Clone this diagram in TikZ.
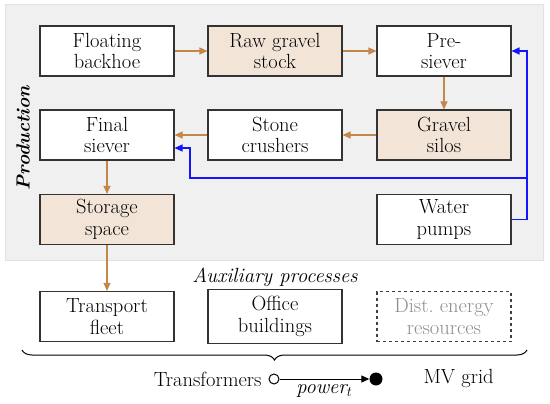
\documentclass[tikz,border=0pt]{standalone}
\usepackage{fontspec}
\setmainfont{Latin Modern Roman}
\usetikzlibrary{arrows.meta,decorations.pathreplacing,calc}
\definecolor{bgray}{HTML}{F0F0F0}
\definecolor{bgedge}{HTML}{E2E2E2}
\definecolor{tan}{HTML}{F2E5D8}
\definecolor{brownarr}{HTML}{C4874A}
\definecolor{ablue}{HTML}{1414FF}
\begin{document}
\begin{tikzpicture}[x=1pt,y=-1pt,
  box/.style={draw=black!80,line width=1.1pt,minimum width=134pt,minimum height=50pt,align=center,inner sep=2pt,font=\fontsize{20.5}{21.7}\selectfont},
  stock/.style={box,fill=tan},
  plain/.style={box,fill=white},
  flow/.style={draw=brownarr,line width=1.1pt,-{Triangle[length=8pt,width=7pt]}},
  water/.style={draw=ablue,line width=1.2pt,-{Triangle[length=8pt,width=7pt]}},
  lbl/.style={font=\fontsize{20.5}{21.7}\selectfont}]
\useasboundingbox (0,0) rectangle (550,404);
\fill[bgray,draw=bgedge,line width=0.8pt] (5,4) rectangle (543,260);
% production nodes
\node[plain] (fb) at (107,51) {Floating\\backhoe};
\node[stock] (rg) at (275,51) {Raw gravel\\stock};
\node[plain] (ps) at (444,51) {Pre-\\siever};
\node[stock] (gs) at (444,135) {Gravel\\silos};
\node[plain] (sc) at (275,135) {Stone\\crushers};
\node[plain] (fs) at (107,135) {Final\\siever};
\node[stock] (ss) at (107,219.5) {Storage\\space};
\node[plain] (wp) at (444,219.5) {Water\\pumps};
% auxiliary
\node[plain] (tf) at (107,316.5) {Transport\\fleet};
\node[plain,minimum height=54pt] (ob) at (275,316.5) {Office\\buildings};
\node[box,dashed,text=black!45,draw=black!75] (de) at (444,316.5) {Dist.\ energy\\resources};
\node[font=\fontsize{20.5}{21.7}\selectfont\itshape] (aux) at (275,277) {Auxiliary processes};
\node[rotate=90,font=\fontsize{19}{21}\selectfont\bfseries\itshape] (prod) at (23,138) {Production};
% flows
\draw[flow] (fb) -- (rg);
\draw[flow] (rg) -- (ps);
\draw[flow] (ps) -- (gs);
\draw[flow] (gs) -- (sc);
\draw[flow] (sc) -- (fs);
\draw[flow] (fs) -- (ss);
\draw[flow] (ss) -- (tf);
% water
\coordinate (wr) at (527,219.5);
\coordinate (wj) at (527,178);
\coordinate (wl) at (190,178);
\draw[water] (wp.east) -- (wr) -- (wj) -- (527,51) -- (ps.east);
\draw[water] (wj) -- (wl) -- (190,148) -- (fs.east |- 0,148);
% brace
\coordinate (bl) at (22,350);
\coordinate (br) at (527,350);
\draw[line width=1pt,decorate,decoration={brace,mirror,amplitude=10pt,raise=0pt}] (bl) -- (br);
% grid connection
\node[circle,draw=black,line width=1pt,fill=white,inner sep=0pt,minimum size=10pt] (tr) at (274,379) {};
\node[circle,fill=black,inner sep=0pt,minimum size=13pt] (mv) at (376,379) {};
\node[lbl,anchor=east] (trl) at (tr.west) {Transformers\,};
\node[lbl,anchor=west] (mvl) at (420,378) {MV grid};
\draw[line width=1pt,-{Triangle[length=8pt,width=7pt]}] (tr) -- (mv) node[midway,below=2pt,font=\fontsize{20.5}{21.7}\selectfont\itshape] {power$_t$};
\end{tikzpicture}
\end{document}
